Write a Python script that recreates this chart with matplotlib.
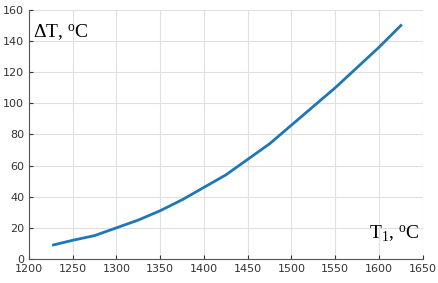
import matplotlib
matplotlib.use("Agg")
import matplotlib.pyplot as plt

plt.rcParams['mathtext.fontset'] = 'custom'
plt.rcParams['mathtext.rm'] = 'Liberation Serif'
plt.rcParams['mathtext.it'] = 'Liberation Serif:italic'

t1 = [1228, 1250, 1275, 1300, 1325, 1350, 1375, 1400, 1425, 1450, 1475, 1500, 1525, 1550, 1575, 1600, 1625]
dt = [9, 12, 15, 20, 25, 31, 38, 46, 54, 64, 74, 86, 98, 110, 123, 136, 150]

fig = plt.figure(figsize=(4.39, 2.83), dpi=100)
ax = fig.add_axes([0.066, 0.085, 0.897, 0.88])
ax.plot(t1, dt, color='#1f77b4', linewidth=2)

ax.set_xlim(1200, 1650)
ax.set_ylim(0, 160)
ax.set_xticks(range(1200, 1651, 50))
ax.set_yticks(range(0, 161, 20))
ax.grid(True, color='#e0e0e0', linewidth=0.8)
ax.set_axisbelow(True)
for s in ['top', 'right']:
    ax.spines[s].set_visible(False)
for s in ['left', 'bottom']:
    ax.spines[s].set_color('#555555')
    ax.spines[s].set_linewidth(0.8)
ax.tick_params(labelsize=8, colors='#333333', length=3, direction='in')

ax.text(1205, 145, r'$\Delta$T, $^{\mathrm{o}}$C', fontsize=14, family='Liberation Serif', va='center')
ax.text(1588, 16, r'T$_{\mathrm{1}}$, $^{\mathrm{o}}$C', fontsize=14, family='Liberation Serif', va='center')

fig.savefig('out.png', dpi=100)
